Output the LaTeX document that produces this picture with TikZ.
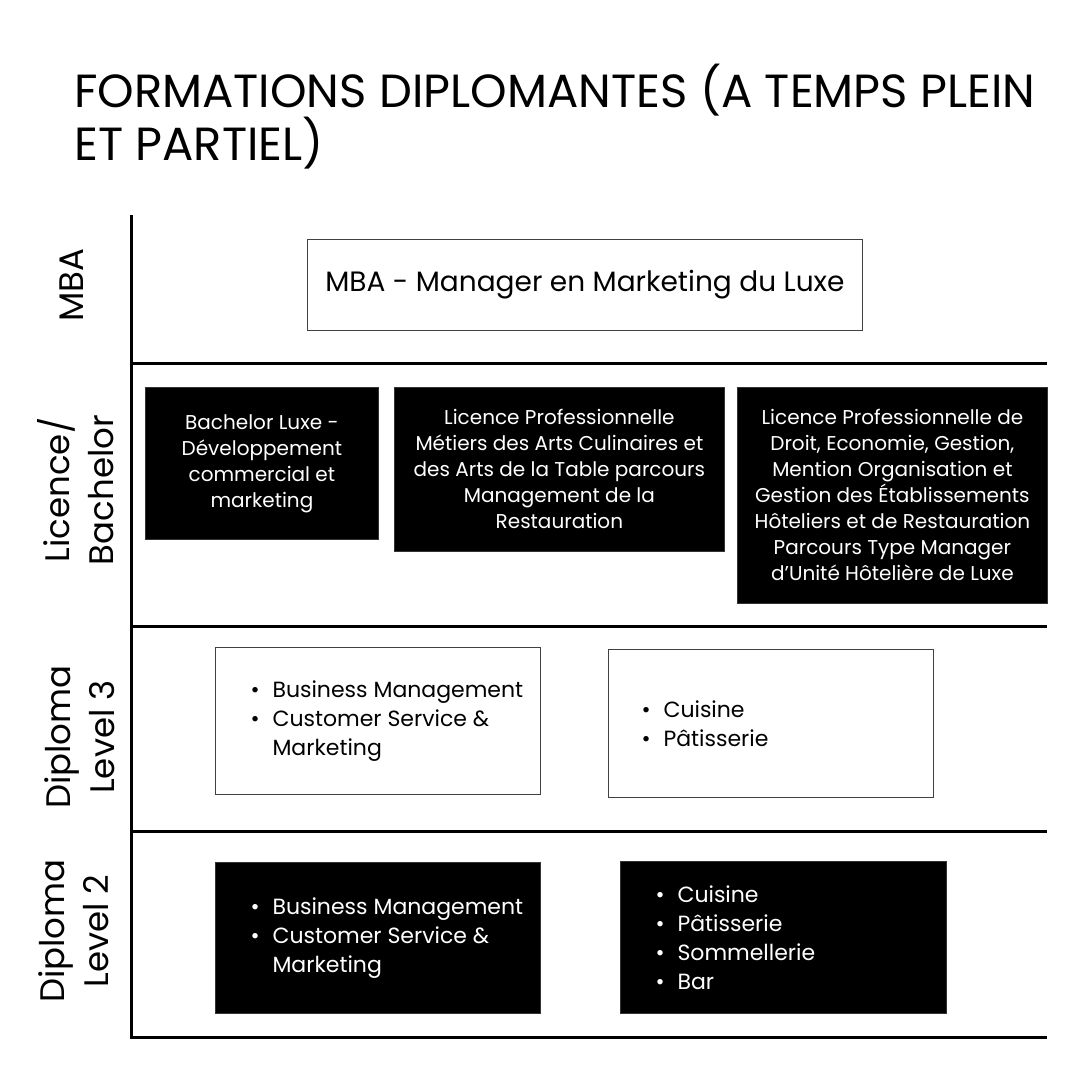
\documentclass[tikz,border=0pt]{standalone}
\usepackage{fontspec}
\setmainfont{Poppins}
\usepackage{tikz}
\usetikzlibrary{calc}
\newcommand{\itemdot}{\makebox[22pt][l]{\textbullet}}

\begin{document}
\begin{tikzpicture}[x=1pt,y=-1pt,
    darkbox/.style={fill=black,draw=black!80,line width=0.8pt,anchor=north west,inner sep=0pt},
    lightbox/.style={fill=white,draw=black!75,line width=0.8pt,anchor=north west,inner sep=0pt},
    rowlabel/.style={rotate=90,align=center,font=\fontsize{34}{44}\selectfont},
    boxtext/.style={align=center,font=\fontsize{20}{26}\selectfont},
    listtext/.style={align=left,anchor=west,font=\fontsize{22}{29}\selectfont}]
    \useasboundingbox (0,0) rectangle (1080,1080);

    \node[anchor=north west,align=left,inner sep=0pt,font=\fontsize{46.5}{48}\selectfont]
      (title) at (74,64) {FORMATIONS DIPLOMANTES (A TEMPS PLEIN\\ET PARTIEL)};

    % axes and row separators
    \draw[line width=3pt]
      (131,215) -- (131,1037) -- (1047,1037);
    \foreach \y in {363,626,831}
      \draw[line width=3pt] (131,\y) -- (1047,\y);

    % row labels
    \node[rowlabel] (rmba) at (72,285) {MBA};
    \node[rowlabel] (rlic) at (76,490) {Licence/\\Bachelor};
    \node[rowlabel] (rdtr) at (80,737) {Diploma\\Level 3};
    \node[rowlabel] (rdtw) at (74,931) {Diploma\\Level 2};

    % MBA
    \node[lightbox,minimum width=555,minimum height=91,font=\fontsize{28}{32}\selectfont]
      (mba) at (307,239) {MBA - Manager en Marketing du Luxe};

    % Licence / Bachelor
    \node[darkbox,minimum width=233,minimum height=152,text=white,boxtext]
      (bach) at (145,387) {Bachelor Luxe -\\D\'eveloppement\\commercial et\\marketing};
    \node[darkbox,minimum width=330,minimum height=164,text=white,boxtext]
      (lpa) at (394,387) {Licence Professionnelle\\M\'etiers des Arts Culinaires et\\des Arts de la Table parcours\\Management de la\\Restauration};
    \node[darkbox,minimum width=310,minimum height=216,text=white,boxtext]
      (lpb) at (737,387) {Licence Professionnelle de\\Droit, Economie, Gestion,\\Mention Organisation et\\Gestion des \'Etablissements\\H\^oteliers et de Restauration\\Parcours Type Manager\\d'Unit\'e H\^oteli\`ere de Luxe};

    % Diploma Level 3
    \node[lightbox,minimum width=325,minimum height=147] (dtrb) at (215,647) {};
    \node[listtext] (dtrbt) at ($(dtrb.west)+(32,0)$)
      {\itemdot Business Management\\\itemdot Customer Service \&\\\phantom{\itemdot}Marketing};
    \node[lightbox,minimum width=325,minimum height=148] (dtrc) at (608,649) {};
    \node[listtext] (dtrct) at ($(dtrc.west)+(30,0)$)
      {\itemdot Cuisine\\\itemdot P\^atisserie};

    % Diploma Level 2
    \node[darkbox,minimum width=325,minimum height=151] (dtwb) at (215,862) {};
    \node[listtext,text=white] (dtwbt) at ($(dtwb.west)+(32,0)$)
      {\itemdot Business Management\\\itemdot Customer Service \&\\\phantom{\itemdot}Marketing};
    \node[darkbox,minimum width=326,minimum height=152] (dtwc) at (620,861) {};
    \node[listtext,text=white] (dtwct) at ($(dtwc.west)+(32,0)$)
      {\itemdot Cuisine\\\itemdot P\^atisserie\\\itemdot Sommellerie\\\itemdot Bar};
\end{tikzpicture}
\end{document}
